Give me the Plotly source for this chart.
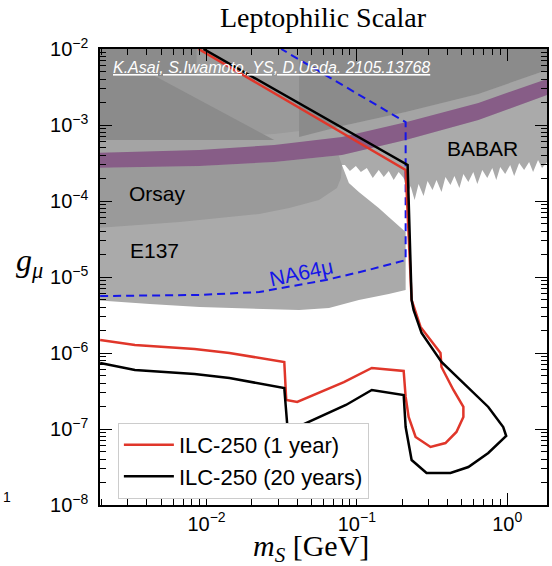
import plotly.graph_objects as go
import math

# ---------------- data ----------------
# ILC-250, 1 year (red) : one contour from the left edge round to the top edge
red_m = [0.00196, 0.00334, 0.00833, 0.0142, 0.0329, 0.0339, 0.0401, 0.0820, 0.1257, 0.2048,
         0.2111, 0.2210, 0.2459, 0.3091, 0.3885, 0.4596, 0.5112, 0.5112, 0.4388, 0.3655,
         0.3600, 0.2652, 0.2313, 0.2210, 0.2111, 0.00885]
red_g = [1.48e-6, 1.27e-6, 1.13e-6, 1.0e-6, 7.61e-7, 2.41e-7, 2.27e-7, 4.15e-7, 6.35e-7, 5.80e-7,
         2.64e-7, 1.44e-7, 7.85e-8, 5.80e-8, 6.54e-8, 9.13e-8, 1.44e-7, 1.95e-7, 3.26e-7, 6.54e-7,
         1.0e-6, 2.20e-6, 4.98e-6, 4.15e-5, 2.56e-4, 1.0e-2]

# ILC-250, 20 years (black)
blk_m = [0.00196, 0.00334, 0.00833, 0.0142, 0.0329, 0.0344, 0.0401, 0.0846, 0.1257, 0.2048,
         0.2111, 0.2313, 0.2907, 0.4194, 0.5517, 0.7485, 0.9849, 0.9408, 0.7485, 0.5270,
         0.3655, 0.2694, 0.2384, 0.2313, 0.2244, 0.2176, 0.00955]
blk_g = [7.38e-7, 5.97e-7, 5.29e-7, 4.69e-7, 3.46e-7, 1.16e-7, 1.06e-7, 2.07e-7, 3.26e-7, 2.80e-7,
         1.06e-7, 3.91e-8, 2.64e-8, 2.64e-8, 3.16e-8, 4.83e-8, 8.09e-8, 1.06e-7, 1.95e-7, 3.79e-7,
         7.61e-7, 1.83e-6, 3.68e-6, 4.98e-6, 4.15e-5, 2.98e-4, 1.0e-2]

# NA64mu projection (blue dashed)
na64_m = [0.00196, 0.00899, 0.02244, 0.06232, 0.1201, 0.2111, 0.2111, 0.03139]
na64_g = [5.62e-6, 5.80e-6, 6.35e-6, 9.13e-6, 1.24e-5, 1.67e-5, 1.09e-3, 1.0e-2]

# Union of E137 + BABAR exclusion (light grey)
light_m = [0.0018, 2.0, 2.0,
           1.705, 1.604, 1.487, 1.399, 1.296, 1.201, 1.113, 1.047, 0.970, 0.899, 0.846, 0.796,
           0.737, 0.683, 0.633, 0.595, 0.5517, 0.5112, 0.481, 0.4457, 0.4194, 0.3885, 0.3655,
           0.3387, 0.3187, 0.2953, 0.2778, 0.2574, 0.2421, 0.2278, 0.2176, 0.2048, 0.1897,
           0.1758, 0.1629, 0.151, 0.1398, 0.1276, 0.1165, 0.1063, 0.0985, 0.0899, 0.0832, 0.07956,
           0.0885, 0.1031, 0.1201, 0.1398, 0.1629, 0.1897, 0.2111, 0.2111,
           0.1629, 0.1031, 0.06526, 0.04129, 0.02244, 0.00899, 0.004194, 0.0018]
light_g = [0.012, 0.012, 3.91e-4,
           2.72e-4, 3.46e-4, 2.41e-4, 3.26e-4, 2.56e-4, 3.16e-4, 2.13e-4, 2.98e-4, 2.27e-4, 2.80e-4,
           1.89e-4, 2.72e-4, 2.01e-4, 2.56e-4, 1.67e-4, 2.41e-4, 1.78e-4, 2.27e-4, 1.48e-4, 2.13e-4,
           1.62e-4, 2.07e-4, 1.31e-4, 1.89e-4, 1.40e-4, 1.83e-4, 1.16e-4, 1.67e-4, 1.03e-4, 1.57e-4,
           1.20e-4, 2.01e-4, 2.41e-4, 1.89e-4, 2.48e-4, 2.07e-4, 2.56e-4, 2.01e-4, 2.72e-4, 2.41e-4,
           2.89e-4, 2.48e-4, 2.98e-4, 2.98e-4,
           1.72e-4, 1.31e-4, 1.03e-4, 8.09e-5, 6.15e-5, 4.69e-5, 3.91e-5, 6.74e-6,
           5.97e-6, 4.98e-6, 3.91e-6, 3.68e-6, 3.79e-6, 4.03e-6, 4.41e-6, 4.98e-6]

# Orsay exclusion (medium grey)
orsay_m = [0.0018, 0.04129, 0.04257, 0.05601, 0.07372, 0.07956, 0.07834, 0.07372, 0.05601,
           0.0355, 0.02244, 0.00663, 0.0018]
orsay_g = [0.012, 0.012, 7.85e-4, 6.35e-4, 4.69e-4, 2.98e-4, 2.01e-4, 1.48e-4, 1.03e-4,
           8.09e-5, 6.74e-5, 5.29e-5, 4.41e-5]

# (g-2)_mu preferred band (purple) and the lighter margin above it
band_m = [0.0018, 0.00899, 0.0282, 0.07956, 0.2111, 0.6427, 2.0]
band_top = [4.28e-4, 4.69e-4, 5.46e-4, 6.95e-4, 1.09e-3, 1.95e-3, 4.28e-3]
band_bot = [2.72e-4, 2.89e-4, 3.26e-4, 4.03e-4, 6.35e-4, 1.16e-3, 2.64e-3]
margin_top = [6.35e-4, 6.75e-4, 7.62e-4, 9.70e-4, 1.48e-3, 2.56e-3, 5.62e-3]

# darker excluded regions at the top
dark_r_m = [0.04129, 2.0, 2.0, 0.6427, 0.2111, 0.07956, 0.04129]
dark_r_g = [0.012, 0.012, 5.62e-3, 2.56e-3, 1.48e-3, 9.70e-4, 6.95e-4]
dark_l_m = [0.0018, 0.00859, 0.00859, 0.00453, 0.0282, 0.0018]
dark_l_g = [0.012, 0.012, 4.41e-3, 4.41e-3, 6.35e-4, 6.35e-4]

# axis ticks
x_ticks = [0.01, 0.1, 1.0]
x_ticktext = ["10<sup>\u22122</sup>", "10<sup>\u22121</sup>", "10<sup>0</sup>"]
y_ticks = [1e-8, 1e-7, 1e-6, 1e-5, 1e-4, 1e-3, 1e-2]
y_ticktext = ["10<sup>\u2212%d</sup>" % k for k in (8, 7, 6, 5, 4, 3, 2)]
x_minor = [d * 10.0 ** e for e in (-3, -2, -1, 0) for d in range(2, 10)]
y_minor = [d * 10.0 ** e for e in (-8, -7, -6, -5, -4, -3) for d in range(2, 10)]

X_RANGE = (0.001956, 1.84)
Y_RANGE = (1e-8, 1e-2)

# ---------------- figure ----------------
fig = go.Figure()

def poly(xs, ys, color):
    fig.add_trace(go.Scatter(x=xs, y=ys, fill="toself", fillcolor=color, mode="lines",
                             line=dict(width=0, color=color), hoverinfo="skip", showlegend=False))

poly(light_m, light_g, "#aaaaaa")
poly(orsay_m, orsay_g, "#9a9a9a")
poly(band_m + band_m[::-1], margin_top + band_bot[::-1], "#a4a4a4")
poly(band_m + band_m[::-1], band_top + band_bot[::-1], "#875d87")
poly(dark_r_m, dark_r_g, "#8b8b8b")
poly(dark_l_m, dark_l_g, "#8b8b8b")

fig.add_trace(go.Scatter(x=na64_m, y=na64_g, mode="lines", showlegend=False,
                         line=dict(color="#1616e8", width=2, dash="8px,5px")))
fig.add_trace(go.Scatter(x=red_m, y=red_g, mode="lines", name="ILC-250 (1 year)",
                         line=dict(color="#e0362a", width=2.5)))
fig.add_trace(go.Scatter(x=blk_m, y=blk_g, mode="lines", name="ILC-250 (20 years)",
                         line=dict(color="black", width=2.5)))

SANS = "Liberation Sans, Arial, sans-serif"
SERIF = "Liberation Serif, Times New Roman, serif"

axis_common = dict(type="log", showline=True, linecolor="black", linewidth=1.5, mirror="allticks",
                   ticks="inside", ticklen=12, tickwidth=1, tickcolor="black", showgrid=False,
                   zeroline=False, tickfont=dict(family=SANS, size=20, color="black"),
                   tickmode="array")

fig.update_xaxes(**axis_common, range=[math.log10(X_RANGE[0]), math.log10(X_RANGE[1])],
                 tickvals=x_ticks, ticktext=x_ticktext,
                 minor=dict(tickmode="array", tickvals=x_minor, ticks="inside", ticklen=6,
                            tickwidth=1, tickcolor="black", showgrid=False))
fig.update_yaxes(**axis_common, range=[math.log10(Y_RANGE[0]), math.log10(Y_RANGE[1])],
                 tickvals=y_ticks, ticktext=y_ticktext, ticklabelstandoff=6,
                 minor=dict(tickmode="array", tickvals=y_minor, ticks="inside", ticklen=6,
                            tickwidth=1, tickcolor="black", showgrid=False))

ann = []
ann.append(dict(text="Leptophilic Scalar", xref="paper", yref="paper", x=0.5, y=1.068,
                xanchor="center", yanchor="middle", showarrow=False,
                font=dict(family=SERIF, size=28, color="black")))
ann.append(dict(text="<i>m</i><sub><i>S</i></sub> [GeV]", xref="paper", yref="paper",
                x=0.472, y=-0.094, xanchor="center", yanchor="middle", showarrow=False,
                font=dict(family=SERIF, size=30, color="black")))
ann.append(dict(text="<i>g</i><sub><i>\u03bc</i></sub>", xref="paper", yref="paper",
                x=-0.158, y=0.531, xanchor="center", yanchor="middle", showarrow=False,
                font=dict(family=SERIF, size=32, color="black")))
ann.append(dict(text="<i><u>K.Asai, S.Iwamoto, YS, D.Ueda. 2105.13768</u></i>", xref="x", yref="y",
                x=-2.636, y=-2.237, xanchor="left", yanchor="middle", showarrow=False,
                font=dict(family=SANS, size=16, color="white")))
ann.append(dict(text="Orsay", xref="x", yref="y", x=-2.530, y=-3.895, xanchor="left",
                yanchor="middle", showarrow=False, font=dict(family=SANS, size=21, color="black")))
ann.append(dict(text="E137", xref="x", yref="y", x=-2.523, y=-4.645, xanchor="left",
                yanchor="middle", showarrow=False, font=dict(family=SANS, size=21, color="black")))
ann.append(dict(text="BABAR", xref="x", yref="y", x=-0.4106, y=-3.303, xanchor="left",
                yanchor="middle", showarrow=False, font=dict(family=SANS, size=21, color="black")))
ann.append(dict(text="NA64\u03bc", xref="x", yref="y", x=-1.371, y=-4.947, xanchor="center",
                yanchor="middle", showarrow=False, textangle=-12,
                font=dict(family=SANS, size=21, color="#1616e8")))
ann.append(dict(text="<sup>1</sup>", xref="paper", yref="paper", x=-0.208, y=0.018,
                xanchor="center", yanchor="middle", showarrow=False,
                font=dict(family=SANS, size=20, color="black")))

fig.update_layout(
    width=552, height=566,
    margin=dict(l=100, r=3, t=49, b=61),
    plot_bgcolor="white", paper_bgcolor="white",
    annotations=ann,
    legend=dict(x=0.040, y=0.180, xanchor="left", yanchor="top", bgcolor="white",
                bordercolor="#cccccc", borderwidth=1, itemwidth=50,
                font=dict(family=SANS, size=22, color="black"), tracegroupgap=0),
)

fig.write_html("out.html")
